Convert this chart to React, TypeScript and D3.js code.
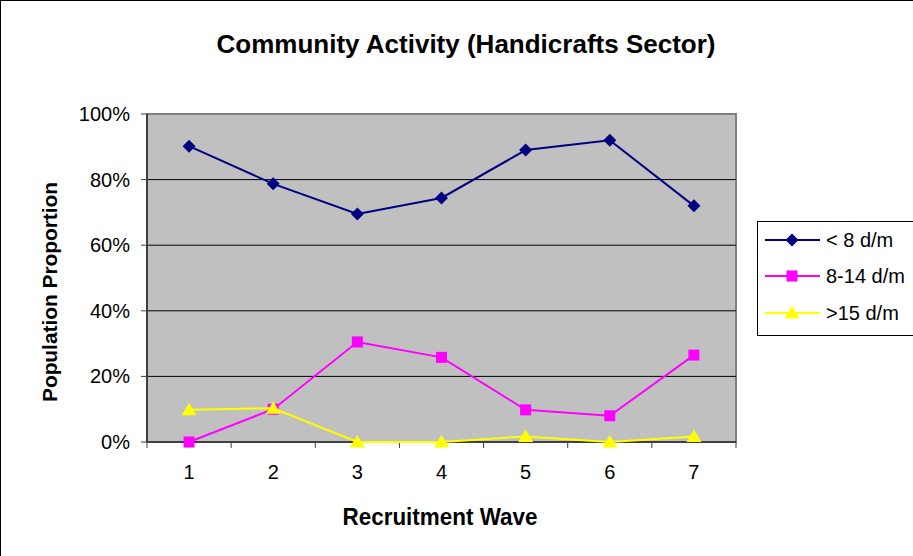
import React from "react";
import * as d3 from "d3";

const waves = ["1", "2", "3", "4", "5", "6", "7"];
const under8 = [0.902, 0.787, 0.695, 0.744, 0.89, 0.92, 0.72];
const mid8to14 = [0.0, 0.10, 0.305, 0.258, 0.098, 0.08, 0.265];
const over15 = [0.098, 0.103, 0.0, 0.0, 0.017, 0.0, 0.017];
const yTicks = [0, 0.2, 0.4, 0.6, 0.8, 1.0];
const seriesNames = ["< 8 d/m", "8-14 d/m", ">15 d/m"];

const W = 913, H = 556;
const plot = { left: 147, right: 736, top: 114, bottom: 442 };
const font = "'Liberation Sans', Arial, sans-serif";

const series = [
  { name: seriesNames[0], values: under8, color: "#000080", marker: "diamond" },
  { name: seriesNames[1], values: mid8to14, color: "#FF00FF", marker: "square" },
  { name: seriesNames[2], values: over15, color: "#FFFF00", marker: "triangle" },
];

function Marker({ type, x, y, color }: { type: string; x: number; y: number; color: string }) {
  if (type === "diamond") {
    const s = 6.5;
    return <path d={`M${x},${y - s}L${x + s},${y}L${x},${y + s}L${x - s},${y}Z`} fill={color} />;
  }
  if (type === "square") {
    return <rect x={x - 5.5} y={y - 5.5} width={11} height={11} fill={color} />;
  }
  return <path d={`M${x},${y - 7}L${x + 7.5},${y + 5.5}L${x - 7.5},${y + 5.5}Z`} fill={color} />;
}

export default function App() {
  const x = d3.scaleBand<string>().domain(waves).range([plot.left, plot.right]);
  const y = d3.scaleLinear().domain([0, 1]).range([plot.bottom, plot.top]);
  const line = d3
    .line<number>()
    .x((_, i) => (x(waves[i]) as number) + x.bandwidth() / 2)
    .y((d) => y(d));
  const boundaries = waves.map((w) => x(w) as number).concat([plot.right]);
  const fmt = d3.format(".0%");

  const legendY = [240, 276, 313];

  return (
    <svg
      width={W}
      height={H}
      style={{ position: "absolute", left: 0, top: 0, background: "#fff" }}
      fontFamily={font}
    >
      <rect x={0.5} y={0.5} width={W + 5} height={H + 5} fill="#fff" stroke="#000" strokeWidth={1} />
      <text x={466} y={53} textAnchor="middle" fontSize={26} fontWeight="bold" textLength={499} lengthAdjust="spacingAndGlyphs">
        Community Activity (Handicrafts Sector)
      </text>

      <rect
        x={plot.left}
        y={plot.top}
        width={plot.right - plot.left}
        height={plot.bottom - plot.top}
        fill="#C0C0C0"
        stroke="#808080"
        strokeWidth={2}
      />
      {yTicks.slice(1, -1).map((t) => (
        <line key={t} x1={plot.left} x2={plot.right} y1={y(t)} y2={y(t)} stroke="#000" strokeWidth={1} />
      ))}
      {/* y axis */}
      <line x1={plot.left} x2={plot.left} y1={plot.top} y2={plot.bottom} stroke="#404040" strokeWidth={2} />
      {yTicks.map((t) => (
        <g key={t}>
          <line x1={plot.left - 6} x2={plot.left} y1={y(t)} y2={y(t)} stroke="#404040" />
          <text x={130} y={y(t) + 7} textAnchor="end" fontSize={20}>
            {fmt(t)}
          </text>
        </g>
      ))}
      {/* x axis */}
      <line x1={plot.left} x2={plot.right} y1={plot.bottom} y2={plot.bottom} stroke="#404040" strokeWidth={2} />
      {boundaries.map((b, i) => (
        <line key={i} x1={b} x2={b} y1={plot.bottom} y2={plot.bottom + 6} stroke="#404040" />
      ))}
      {waves.map((w) => (
        <text key={w} x={(x(w) as number) + x.bandwidth() / 2} y={479} textAnchor="middle" fontSize={20}>
          {w}
        </text>
      ))}

      {series.map((s) => (
        <g key={s.name}>
          <path d={line(s.values) || ""} fill="none" stroke={s.color} strokeWidth={2} />
          {s.values.map((v, i) => (
            <Marker
              key={i}
              type={s.marker}
              x={(x(waves[i]) as number) + x.bandwidth() / 2}
              y={y(v)}
              color={s.color}
            />
          ))}
        </g>
      ))}

      <text x={440} y={525} textAnchor="middle" fontSize={23} fontWeight="bold" textLength={195} lengthAdjust="spacingAndGlyphs">
        Recruitment Wave
      </text>
      <text
        transform={`translate(57,${292}) rotate(-90)`}
        textAnchor="middle"
        fontSize={21}
        fontWeight="bold"
        textLength={220}
        lengthAdjust="spacingAndGlyphs"
      >
        Population Proportion
      </text>

      <rect x={757.5} y={221.5} width={170} height={114} fill="#fff" stroke="#000" strokeWidth={1} />
      {series.map((s, i) => (
        <g key={s.name}>
          <line x1={765} x2={820} y1={legendY[i]} y2={legendY[i]} stroke={s.color} strokeWidth={2} />
          <Marker type={s.marker} x={792} y={legendY[i]} color={s.color} />
          <text x={826} y={legendY[i] + 7} fontSize={20}>
            {s.name}
          </text>
        </g>
      ))}
    </svg>
  );
}
